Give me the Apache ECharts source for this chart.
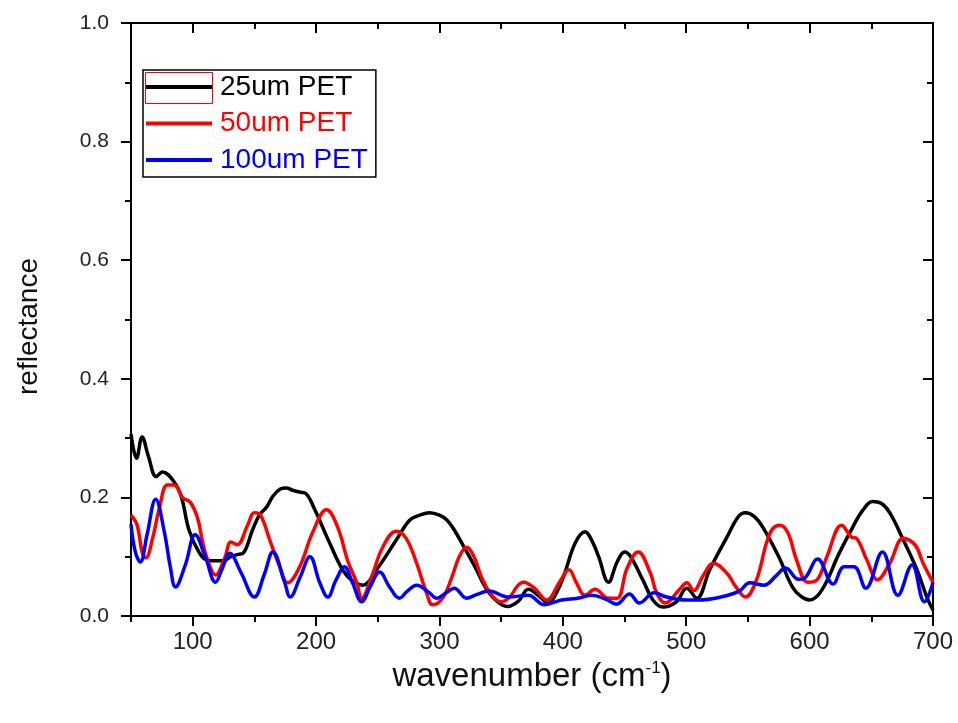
<!DOCTYPE html>
<html><head><meta charset="utf-8">
<script src="https://cdn.jsdelivr.net/npm/echarts@6/dist/echarts.min.js"></script>
<style>html,body{margin:0;padding:0;background:#fff}#c{width:958px;height:723px}</style>
</head><body><div id="c"></div>
<script>
const seriesNames = ['25um PET', '50um PET', '100um PET'];
const seriesColors = ['#000000', '#ff0000', '#0000ff'];
const xMajorTicks = [100, 200, 300, 400, 500, 600, 700];
const xMinorTicks = [50, 150, 250, 350, 450, 550, 650];

const x25 = [50,54.5,59,64,70.5,75.5,85,91,97,105.5,112,120,126,131,137,141,148.5,154,160,165,171,176,181,186.5,192,199,211,221.5,229,238,249,265,276,284,292,300,306,312,320,330,337,345,355,364,372,380,388,395,401.5,410,418,424,429,437,444,450,455,465,473,481,492,500.5,508.5,519,533,542,548,555,562,575,586,593,600,610,624,635,643,651,658,665,676,687,695,700];
const y25 = [0.307,0.266,0.302,0.27,0.235,0.243,0.226,0.2,0.145,0.106,0.094,0.093,0.094,0.100,0.104,0.106,0.145,0.17,0.184,0.202,0.214,0.216,0.212,0.209,0.206,0.179,0.123,0.078,0.06,0.052,0.078,0.128,0.162,0.17,0.174,0.17,0.162,0.145,0.116,0.078,0.049,0.028,0.016,0.025,0.045,0.035,0.022,0.04,0.072,0.123,0.142,0.125,0.1,0.057,0.091,0.108,0.1,0.06,0.027,0.015,0.024,0.047,0.03,0.078,0.133,0.167,0.174,0.168,0.15,0.1,0.049,0.033,0.027,0.044,0.106,0.15,0.178,0.193,0.19,0.174,0.128,0.078,0.032,0.01];

const x50 = [50,55,59,62,67.5,73,79.5,85,92,98,104,108,113.5,118.5,126,131,136,144.5,150,155,163,170,177,182,189,197,208.5,217.5,225.5,233,237,245,254,265,273,281.5,289.5,294.5,302.5,310,316,322,328,334,341,350,357,363,368,377,387,397,405,411,418,426,437,444,452,461,471,476,483,495,500.5,506,514,522,533,540,548,557,565,570,576,582.5,589.5,598.5,606,614,626,634,638,646.5,655,665,676,685.5,692,700];
const y50 = [0.17,0.153,0.108,0.098,0.131,0.182,0.221,0.221,0.199,0.192,0.165,0.125,0.086,0.069,0.098,0.125,0.12,0.153,0.174,0.17,0.125,0.086,0.056,0.065,0.094,0.14,0.179,0.15,0.094,0.056,0.03,0.066,0.116,0.143,0.131,0.089,0.039,0.019,0.03,0.065,0.1,0.116,0.1,0.066,0.039,0.024,0.032,0.05,0.057,0.047,0.027,0.056,0.078,0.056,0.035,0.045,0.03,0.03,0.08,0.108,0.072,0.039,0.022,0.046,0.056,0.043,0.069,0.089,0.072,0.05,0.032,0.061,0.123,0.147,0.153,0.14,0.094,0.057,0.061,0.1,0.153,0.133,0.131,0.094,0.061,0.089,0.131,0.12,0.089,0.057];

const x100 = [50,53.5,57.5,63,70,77,82,86,94,102,110.5,118.5,124,130,139,150,158,165,174.5,179,187,195,203,209.5,216,223,229.5,237,244,251.5,259.5,267.5,274,281.5,292,297.5,306,312,322,330,340,356,372,385,399,412,423.5,435,443.5,454,462,474,484,500,510,528,543,551.5,563,573,580.5,591,596,606.5,619,628,636,645.5,659,671.5,683,693,700];
const y100 = [0.155,0.108,0.091,0.137,0.197,0.142,0.081,0.049,0.086,0.137,0.098,0.057,0.08,0.106,0.074,0.032,0.07,0.108,0.057,0.032,0.065,0.1,0.056,0.032,0.06,0.083,0.056,0.024,0.05,0.074,0.049,0.03,0.042,0.052,0.039,0.03,0.04,0.047,0.03,0.036,0.042,0.032,0.035,0.019,0.027,0.03,0.035,0.028,0.02,0.037,0.022,0.039,0.032,0.027,0.027,0.032,0.042,0.056,0.052,0.068,0.081,0.062,0.064,0.096,0.054,0.083,0.083,0.047,0.108,0.035,0.086,0.024,0.056];

const xs = [x25, x50, x100];
const ys = [y25, y50, y100];

const chart = echarts.init(document.getElementById('c'), null, {renderer: 'canvas'});
const axisLine = {show: true, lineStyle: {color: '#000', width: 2}};
const fontMain = "'Liberation Sans', Arial, sans-serif";
const fontNarrow = "'Liberation Sans Narrow', 'Liberation Sans', Arial, sans-serif";

const option = {
  backgroundColor: '#fff',
  animation: false,
  grid: {left: 131, right: 25, top: 23, bottom: 107, containLabel: false},
  legend: {
    orient: 'vertical', left: 143, top: 70,
    padding: [3, 8, 3, 3], itemGap: 8.5,
    itemWidth: 66, itemHeight: 4, icon: 'rect',
    borderColor: '#000', borderWidth: 1.5, backgroundColor: '#fff',
    textStyle: {fontSize: 28, fontFamily: fontMain, lineHeight: 28, padding: [0, 0, 0, 3]},
    data: seriesNames.map((n, i) => ({name: n, textStyle: {color: seriesColors[i]}}))
  },
  xAxis: [
    {type: 'value', min: 50, max: 700, position: 'bottom',
     axisLine: axisLine,
     axisTick: {show: true, inside: false, length: 10, lineStyle: {width: 2, color: '#000'}, customValues: xMajorTicks},
     axisLabel: {show: true, customValues: xMajorTicks, fontSize: 24, color: '#222', fontFamily: fontNarrow, margin: 14},
     splitLine: {show: false},
     name: '{a|wavenumber (cm}{s|-1}{a|)}', nameLocation: 'middle', nameGap: 44,
     nameTextStyle: {rich: {a: {fontSize: 33, fontFamily: fontNarrow, color: '#111'}, s: {fontSize: 17, fontFamily: fontNarrow, color: '#111', padding: [0, 0, 17, 0]}}}
    },
    {type: 'value', min: 50, max: 700, position: 'bottom',
     axisLine: {show: false},
     axisTick: {show: true, inside: false, length: 6, lineStyle: {width: 2, color: '#000'}, customValues: xMinorTicks},
     axisLabel: {show: false}, splitLine: {show: false}},
    {type: 'value', min: 50, max: 700, position: 'top',
     axisLine: axisLine,
     axisTick: {show: true, inside: true, length: 10, lineStyle: {width: 2, color: '#000'}, customValues: xMajorTicks},
     axisLabel: {show: false}, splitLine: {show: false}},
    {type: 'value', min: 50, max: 700, position: 'top',
     axisLine: {show: false},
     axisTick: {show: true, inside: true, length: 6, lineStyle: {width: 2, color: '#000'}, customValues: xMinorTicks},
     axisLabel: {show: false}, splitLine: {show: false}}
  ],
  yAxis: [
    {type: 'value', min: 0, max: 1, interval: 0.2, position: 'left',
     axisLine: axisLine,
     axisTick: {show: true, inside: false, length: 10, lineStyle: {width: 2, color: '#000'}},
     minorTick: {show: true, splitNumber: 2, length: 6, lineStyle: {width: 2, color: '#000'}},
     axisLabel: {fontSize: 21, color: '#222', fontFamily: fontMain, margin: 22, formatter: v => v.toFixed(1)},
     splitLine: {show: false},
     name: 'reflectance', nameLocation: 'middle', nameGap: 88, nameRotate: 90,
     nameTextStyle: {fontSize: 28, fontFamily: fontNarrow, color: '#111', padding: [0, 0, 0, -14]}
    },
    {type: 'value', min: 0, max: 1, interval: 0.2, position: 'right',
     axisLine: axisLine,
     axisTick: {show: true, inside: true, length: 10, lineStyle: {width: 2, color: '#000'}},
     minorTick: {show: true, splitNumber: 2, length: 6, lineStyle: {width: 2, color: '#000'}},
     axisLabel: {show: false}, splitLine: {show: false}}
  ],
  series: seriesNames.map((n, i) => ({
    name: n, type: 'line', xAxisIndex: 0, yAxisIndex: 0,
    showSymbol: false, smooth: 0.4,
    lineStyle: {color: seriesColors[i], width: 3.5},
    itemStyle: {color: seriesColors[i]},
    data: xs[i].map((x, k) => [x, ys[i][k]])
  })),
  graphic: [
    {type: 'rect', shape: {x: 145.5, y: 72.5, width: 67, height: 31}, style: {fill: 'none', stroke: '#ff0000', lineWidth: 1}, z: 200}
  ]
};
chart.setOption(option);
</script>
</body></html>
